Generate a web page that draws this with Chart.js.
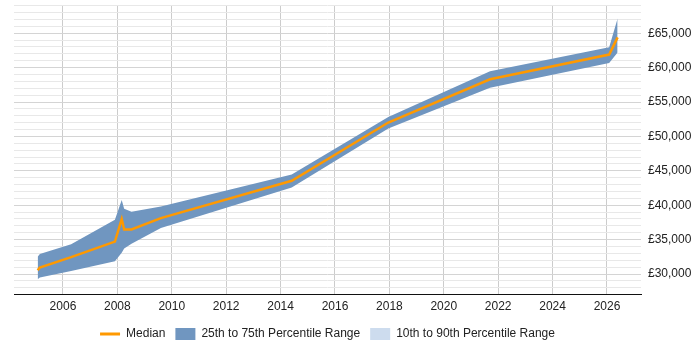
<!DOCTYPE html>
<html>
<head>
<meta charset="utf-8">
<script src="https://cdn.jsdelivr.net/npm/chart.js@4.4.1/dist/chart.umd.min.js"></script>
<style>
  html, body { margin: 0; padding: 0; background: #ffffff; }
  #wrap { width: 700px; height: 350px; position: relative; }
</style>
</head>
<body>
<div id="wrap"><canvas id="c"></canvas></div>
<script>
// Dates as decimal years
const years = [2005.07, 2005.15, 2006.3, 2007.91, 2008.16, 2008.25, 2008.52, 2009.6, 2014.41, 2017.96, 2021.7, 2026.08, 2026.39];
const median = [30540, 30950, 32450, 34710, 38000, 36480, 36480, 38130, 43560, 52020, 58300, 61900, 64400];
const p75 = [32500, 32900, 34330, 37900, 40750, 39500, 39050, 39800, 44480, 52840, 59460, 62950, 67150];
const p25 = [29230, 29500, 30450, 31850, 33100, 33700, 34400, 36700, 42580, 51150, 57060, 60680, 62200];
const xTickYears = [2006, 2008, 2010, 2012, 2014, 2016, 2018, 2020, 2022, 2024, 2026];
const yGridValues = [];
for (let v = 28000; v <= 69000; v += 1000) yGridValues.push(v);

const pts = (arr) => years.map((y, i) => ({ x: y, y: arr[i] }));

const bandColor = '#7096c0';
const band2Color = '#cddcee';
const medianColor = '#ff9900';

const legendShift = {
  id: 'legendShift',
  afterLayout(chart) {
    const lg = chart.legend;
    const ca = chart.chartArea;
    if (!lg) return;
    const dx = (ca.left + ca.right) / 2 - (lg.left + lg.right) / 2;
    lg.left += dx; lg.right += dx;
  }
};

new Chart(document.getElementById('c'), {
  type: 'line',
  plugins: [legendShift],
  data: {
    datasets: [
      {
        label: 'Median',
        data: pts(median),
        borderColor: medianColor,
        backgroundColor: medianColor,
        borderWidth: 2.5,
        pointRadius: 0,
        tension: 0,
        fill: false,
        order: 0,
        pointStyle: 'line'
      },
      {
        label: '25th to 75th Percentile Range',
        data: pts(p75),
        borderColor: bandColor,
        backgroundColor: bandColor,
        borderWidth: 0,
        pointRadius: 0,
        tension: 0,
        fill: '+1',
        order: 1,
        pointStyle: 'rect'
      },
      {
        label: 'p25',
        data: pts(p25),
        borderColor: bandColor,
        backgroundColor: bandColor,
        borderWidth: 0,
        pointRadius: 0,
        tension: 0,
        fill: false,
        order: 2,
        pointStyle: 'rect'
      },
      {
        label: '10th to 90th Percentile Range',
        data: [],
        borderColor: band2Color,
        backgroundColor: band2Color,
        borderWidth: 0,
        pointRadius: 0,
        fill: false,
        order: 3,
        pointStyle: 'rect'
      }
    ]
  },
  options: {
    responsive: true,
    maintainAspectRatio: false,
    animation: false,
    layout: { padding: { left: 14, top: 5, right: 0, bottom: 0 } },
    plugins: {
      tooltip: { enabled: false },
      legend: {
        position: 'bottom',
        labels: {
          filter: (item) => item.text !== 'p25',
          usePointStyle: true,
          pointStyleWidth: 20,
          boxHeight: 13,
          padding: 10,
          color: '#222',
          font: { family: 'Liberation Sans, Arial, sans-serif', size: 12 },
          generateLabels: (chart) => {
            const items = Chart.defaults.plugins.legend.labels.generateLabels(chart);
            items.forEach(it => {
              if (it.text === 'Median') { it.lineWidth = 3; it.strokeStyle = medianColor; }
              else { it.lineWidth = 0; }
            });
            return items;
          }
        }
      }
    },
    scales: {
      x: {
        type: 'linear',
        min: 2004.2,
        max: 2027.25,
        afterBuildTicks: (scale) => { scale.ticks = xTickYears.map(v => ({ value: v })); },
        ticks: {
          callback: (v) => String(v),
          color: '#222',
          padding: 5,
          maxRotation: 0,
          autoSkip: false,
          font: { family: 'Liberation Sans, Arial, sans-serif', size: 12 }
        },
        grid: { color: '#cccccc', drawTicks: false },
        border: { display: true, color: '#111', width: 1 },
        afterFit: (scale) => { scale.height = 24; scale.paddingLeft = 0; scale.paddingRight = 0; }
      },
      y: {
        position: 'right',
        min: 27100,
        max: 69100,
        afterBuildTicks: (scale) => { scale.ticks = yGridValues.map(v => ({ value: v })); },
        ticks: {
          callback: (v) => (v % 5000 === 0 ? '£' + v.toLocaleString('en-GB') : ''),
          color: '#222',
          padding: 7,
          autoSkip: false,
          font: { family: 'Liberation Sans, Arial, sans-serif', size: 12 }
        },
        grid: {
          drawTicks: false,
          color: (ctx) => (ctx.tick && ctx.tick.value % 5000 === 0 ? '#d4d4d4' : '#e8e8e8')
        },
        border: { display: false },
        afterFit: (scale) => { scale.width = 59; scale.paddingTop = 0; scale.paddingBottom = 0; }
      }
    }
  }
});
</script>
</body>
</html>
